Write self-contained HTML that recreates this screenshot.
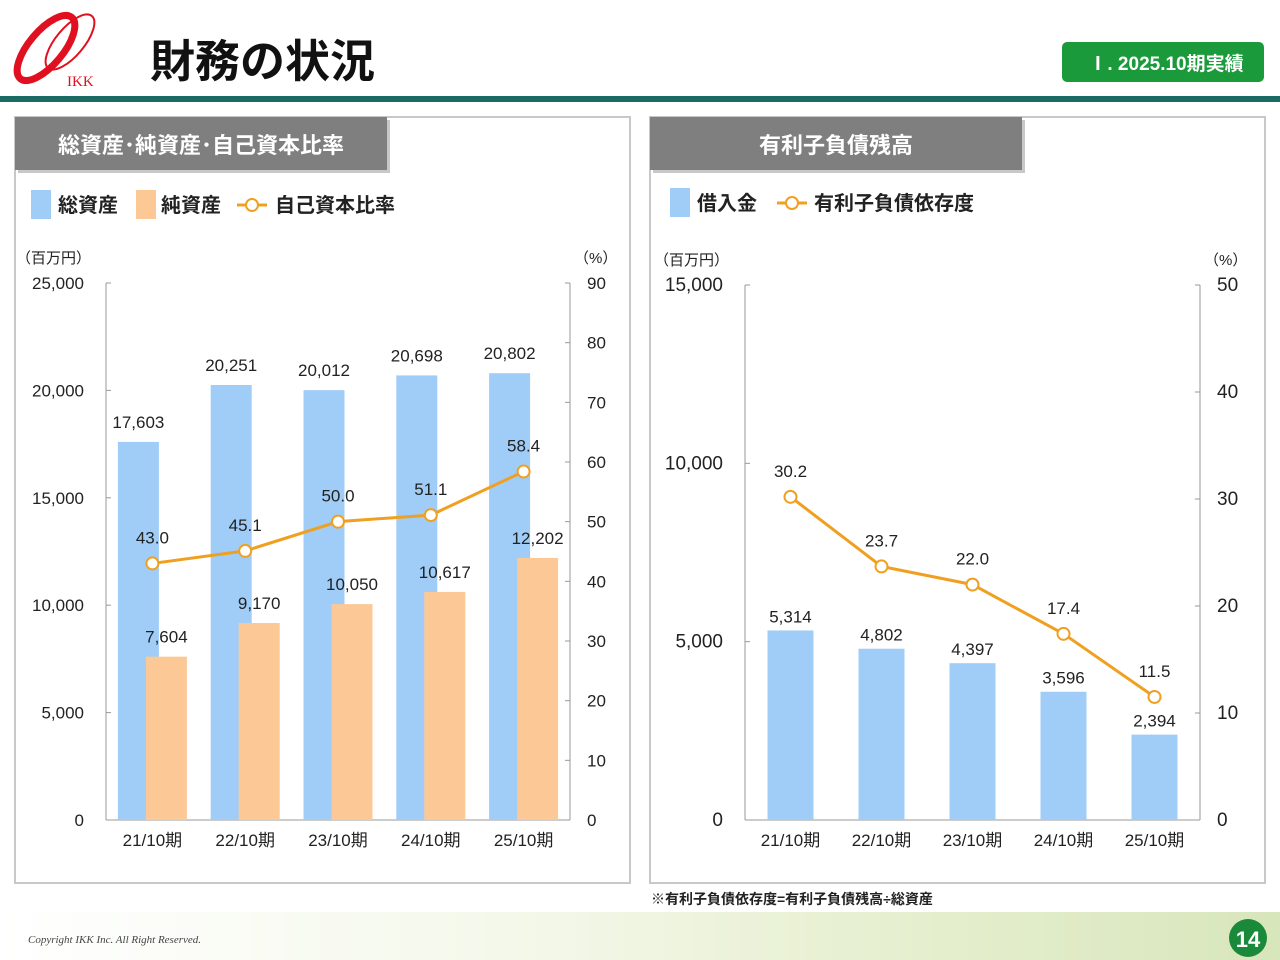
<!DOCTYPE html>
<html><head><meta charset="utf-8">
<style>
body{margin:0;width:1280px;height:960px;position:relative;overflow:hidden;background:#fff;font-family:"Liberation Sans","Noto Sans CJK JP",sans-serif;}
.abs{position:absolute;}
</style></head>
<body>
<svg class="abs" style="left:0;top:0" width="1280" height="960">
<defs>
<linearGradient id="ft" x1="0" y1="0" x2="1" y2="0">
<stop offset="0" stop-color="#ffffff"/><stop offset="0.4" stop-color="#f4f8ea"/><stop offset="0.7" stop-color="#e6efcf"/><stop offset="1" stop-color="#d8e6bc"/>
</linearGradient>
</defs>
<rect x="0" y="912" width="1280" height="48" fill="url(#ft)"/>
<g>
<ellipse cx="46" cy="48" rx="17" ry="40" transform="rotate(40 46 48)" fill="none" stroke="#e01020" stroke-width="7"/>
<ellipse cx="70" cy="42" rx="14" ry="34" transform="rotate(40 70 42)" fill="none" stroke="#e01020" stroke-width="2"/>
<text x="67" y="86" font-family="Liberation Serif" font-size="15" fill="#e01020">IKK</text>
</g>
<text x="150" y="77" font-size="45" font-weight="bold" fill="#111">財務の状況</text>
<rect x="1062" y="42" width="202" height="40" rx="5" fill="#1a9a3a"/>
<text x="1166" y="70" font-size="19" font-weight="bold" fill="#fff" text-anchor="middle">Ⅰ. 2025.10期実績</text>
<rect x="0" y="96" width="1280" height="6" fill="#1c6a64"/>

<rect x="15" y="117" width="615" height="766" fill="#fff" stroke="#c8c8c8" stroke-width="2"/>
<rect x="18" y="120" width="372" height="53" fill="#c8c8c8"/>
<rect x="15" y="117" width="372" height="53" fill="#7f7f7f"/>
<text x="201" y="153" font-size="22" font-weight="bold" fill="#fff" text-anchor="middle">総資産･純資産･自己資本比率</text>

<rect x="650" y="117" width="615" height="766" fill="#fff" stroke="#c8c8c8" stroke-width="2"/>
<rect x="653" y="120" width="372" height="53" fill="#c8c8c8"/>
<rect x="650" y="117" width="372" height="53" fill="#7f7f7f"/>
<text x="836" y="153" font-size="22" font-weight="bold" fill="#fff" text-anchor="middle">有利子負債残高</text>

<g font-size="20" font-weight="bold" fill="#222">
<rect x="31" y="190" width="20" height="29" fill="#9fcdf7"/><text x="58" y="212">総資産</text>
<rect x="136" y="190" width="20" height="29" fill="#fcc896"/><text x="161" y="212">純資産</text>
<line x1="237" y1="205" x2="267" y2="205" stroke="#f0a020" stroke-width="3"/><circle cx="252" cy="205" r="6" fill="#fff" stroke="#f0a020" stroke-width="2"/><text x="275" y="212">自己資本比率</text>
</g>
<g font-size="20" font-weight="bold" fill="#222">
<rect x="670" y="188" width="20" height="29" fill="#9fcdf7"/><text x="697" y="210">借入金</text>
<line x1="777" y1="203" x2="807" y2="203" stroke="#f0a020" stroke-width="3"/><circle cx="792" cy="203" r="6" fill="#fff" stroke="#f0a020" stroke-width="2"/><text x="814" y="210">有利子負債依存度</text>
</g>

<g id="lc"></g>
<g id="rc"></g>

<text x="651" y="904" font-size="14" font-weight="bold" fill="#222">※有利子負債依存度=有利子負債残高÷総資産</text>
<text x="28" y="943" font-family="Liberation Serif" font-style="italic" font-size="11" fill="#444">Copyright IKK Inc. All Right Reserved.</text>
<circle cx="1248" cy="938" r="19" fill="#1a8a3a"/>
<text x="1248" y="947" font-size="22" font-weight="bold" fill="#fff" text-anchor="middle">14</text>
</svg>
<script>
const cats=["21/10期","22/10期","23/10期","24/10期","25/10期"];
const totalAssets=[17603,20251,20012,20698,20802];
const netAssets=[7604,9170,10050,10617,12202];
const equityRatio=[43.0,45.1,50.0,51.1,58.4];
const leftTicks=[0,5000,10000,15000,20000,25000];
const leftPctTicks=[0,10,20,30,40,50,60,70,80,90];
const borrowings=[5314,4802,4397,3596,2394];
const debtRatio=[30.2,23.7,22.0,17.4,11.5];
const rightTicks=[0,5000,10000,15000];
const rightPctTicks=[0,10,20,30,40,50];
const NS="http://www.w3.org/2000/svg";
function mk(p,t,a,txt){const e=document.createElementNS(NS,t);for(const k in a)e.setAttribute(k,a[k]);if(txt!==undefined)e.textContent=txt;p.appendChild(e);return e;}
const fmt=v=>v.toLocaleString('en-US');
function chart(g,o){
  const x0=o.x0,x1=o.x1,y0=o.y0,y1=o.y1;
  const yL=v=>y0-(v/o.lmax)*(y0-y1), yR=v=>y0-(v/o.rmax)*(y0-y1);
  const bw=(x1-x0)/cats.length, cx=i=>x0+bw*(i+0.5);
  mk(g,'line',{x1:x0,y1:y1,x2:x0,y2:y0,stroke:'#999'});
  mk(g,'line',{x1:x1,y1:y1,x2:x1,y2:y0,stroke:'#999'});
  mk(g,'line',{x1:x0,y1:y0,x2:x1,y2:y0,stroke:'#999'});
  mk(g,'text',{x:o.ux,y:y1-20,'font-size':15,fill:'#222'},'（百万円）');
  mk(g,'text',{x:x1+4,y:y1-20,'font-size':15,fill:'#222'},'（%）');
  o.lt.forEach(v=>{mk(g,'line',{x1:x0,y1:yL(v),x2:x0+5,y2:yL(v),stroke:'#999'});
    const t=mk(g,'text',{x:x0-22,y:yL(v)+6,'font-size':o.fs,fill:'#222','text-anchor':'end'},fmt(v));
    });
  o.rt.forEach(v=>{mk(g,'line',{x1:x1-5,y1:yR(v),x2:x1,y2:yR(v),stroke:'#999'});
    const t=mk(g,'text',{x:x1+17,y:yR(v)+6,'font-size':o.fs,fill:'#222'},String(v));
    });
  cats.forEach((c,i)=>{const t=mk(g,'text',{x:cx(i),y:y0+26,'font-size':17,fill:'#222','text-anchor':'middle'},c);
    });
  o.bars.forEach(b=>{b.vals.forEach((v,i)=>{const bx=cx(i)+b.off-b.w/2;
    const r=mk(g,'rect',{x:bx,y:yL(v),width:b.w,height:y0-yL(v),fill:b.color});
    
    mk(g,'text',{x:cx(i)+b.off+(b.lx||0),y:yL(v)-b.ly,'font-size':17,fill:'#222','text-anchor':'middle'},fmt(v));});});
  const pts=o.line.map((v,i)=>cx(i)+','+yR(v)).join(' ');
  const pl=mk(g,'polyline',{points:pts,fill:'none',stroke:'#f0a020','stroke-width':3});
  
  o.line.forEach((v,i)=>{const c=mk(g,'circle',{cx:cx(i),cy:yR(v),r:6,fill:'#fff',stroke:'#f0a020','stroke-width':2});
    
    mk(g,'text',{x:cx(i),y:yR(v)-o.lly,'font-size':17,fill:'#222','text-anchor':'middle'},v.toFixed(1));});
}
chart(document.getElementById('lc'),{x0:106,x1:570,y0:820,y1:283,lmax:25000,rmax:90,lt:leftTicks,rt:leftPctTicks,fs:17,ux:16,
  bars:[{vals:totalAssets,off:-14,w:41,color:'#9fcdf7',name:'total-assets-bar',ly:14,lx:0},{vals:netAssets,off:14,w:41,color:'#fcc896',name:'net-assets-bar',ly:14,lx:0}],
  line:equityRatio,lly:20});
chart(document.getElementById('rc'),{x0:745,x1:1200,y0:820,y1:285,lmax:15000,rmax:50,lt:rightTicks,rt:rightPctTicks,fs:19,ux:654,
  bars:[{vals:borrowings,off:0,w:46,color:'#9fcdf7',name:'borrowings-bar',ly:8,lx:0}],
  line:debtRatio,lly:20});
</script>
</body></html>
